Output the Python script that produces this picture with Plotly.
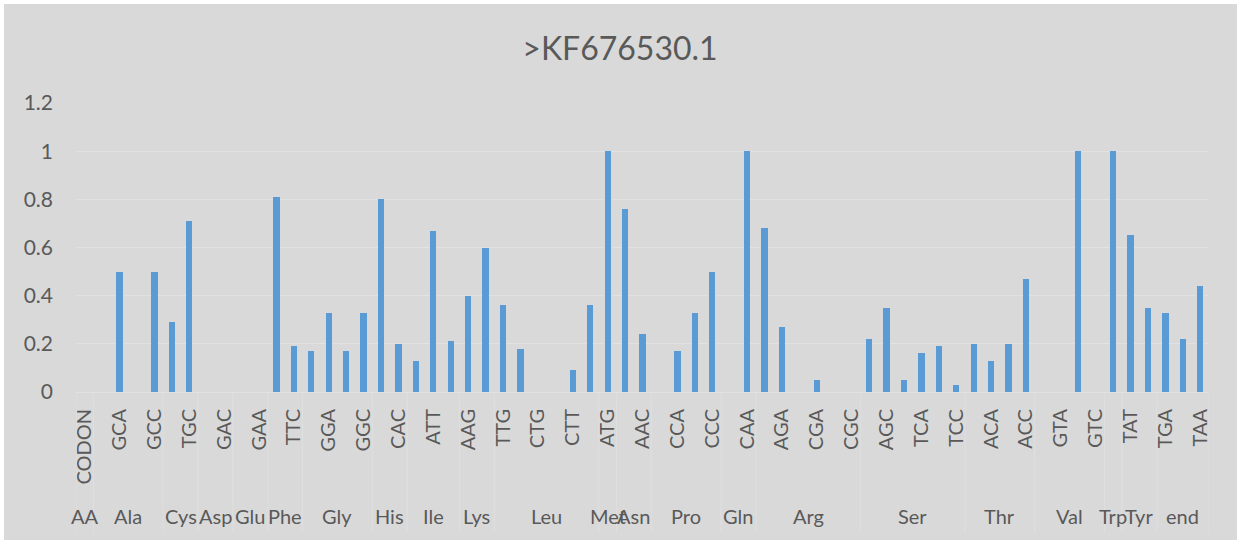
import plotly.graph_objects as go

title_text = ">KF676530.1"

codons = ["CODON",
          "GCT", "GCA", "GCG", "GCC",
          "TGT", "TGC",
          "GAT", "GAC",
          "GAG", "GAA",
          "TTT", "TTC",
          "GGT", "GGA", "GGG", "GGC",
          "CAT", "CAC",
          "ATA", "ATT", "ATC",
          "AAG", "AAA",
          "TTG", "TTA", "CTG", "CTA", "CTT", "CTC",
          "ATG",
          "AAT", "AAC",
          "CCT", "CCA", "CCG", "CCC",
          "CAG", "CAA",
          "AGG", "AGA", "CGG", "CGA", "CGT", "CGC",
          "AGT", "AGC", "TCT", "TCA", "TCG", "TCC",
          "ACT", "ACA", "ACG", "ACC",
          "GTT", "GTA", "GTG", "GTC",
          "TGG",
          "TAT", "TAC",
          "TGA", "TAG", "TAA"]

amino_acids = ["AA",
               "Ala", "Ala", "Ala", "Ala",
               "Cys", "Cys",
               "Asp", "Asp",
               "Glu", "Glu",
               "Phe", "Phe",
               "Gly", "Gly", "Gly", "Gly",
               "His", "His",
               "Ile", "Ile", "Ile",
               "Lys", "Lys",
               "Leu", "Leu", "Leu", "Leu", "Leu", "Leu",
               "Met",
               "Asn", "Asn",
               "Pro", "Pro", "Pro", "Pro",
               "Gln", "Gln",
               "Arg", "Arg", "Arg", "Arg", "Arg", "Arg",
               "Ser", "Ser", "Ser", "Ser", "Ser", "Ser",
               "Thr", "Thr", "Thr", "Thr",
               "Val", "Val", "Val", "Val",
               "Trp",
               "Tyr", "Tyr",
               "end", "end", "end"]

values = [0,
          0, 0.50, 0, 0.50,
          0.29, 0.71,
          0, 0,
          0, 0,
          0.81, 0.19,
          0.17, 0.33, 0.17, 0.33,
          0.80, 0.20,
          0.13, 0.67, 0.21,
          0.40, 0.60,
          0.36, 0.18, 0, 0, 0.09, 0.36,
          1.00,
          0.76, 0.24,
          0, 0.17, 0.33, 0.50,
          0, 1.00,
          0.68, 0.27, 0, 0.05, 0, 0,
          0.22, 0.35, 0.05, 0.16, 0.19, 0.03,
          0.20, 0.13, 0.20, 0.47,
          0, 0, 1.00, 0,
          1.00,
          0.65, 0.35,
          0.33, 0.22, 0.44]

y_ticks = [0, 0.2, 0.4, 0.6, 0.8, 1, 1.2]

FONT = "Lato"
TXT = "#595959"
BG = "#d9d9d9"
GRID = "#e1e1e1"

idx = list(range(len(codons)))

# groups (consecutive runs)
groups = []
for i, aa in enumerate(amino_acids):
    if groups and groups[-1][0] == aa:
        groups[-1][2] = i
    else:
        groups.append([aa, i, i])

fig = go.Figure()
fig.add_trace(go.Bar(
    x=idx, y=values,
    width=0.36,
    marker=dict(color="#5b9bd5", line=dict(width=0)),
    hoverinfo="x+y",
))

# plot area geometry (pixels)
L, R, T, B = 76, 31, 103, 152
W = 1240 - L - R
H = 544 - T - B

shapes = []
# outer gray chart area with white border
shapes.append(dict(type="rect", xref="paper", yref="paper", layer="below",
                   x0=(4 - L) / W, x1=(1237 - L) / W,
                   y0=(544 - B - 540) / H, y1=(544 - B - 4) / H,
                   fillcolor=BG, line=dict(width=0)))
# category dividers
bounds = [g[1] - 0.5 for g in groups] + [groups[-1][2] + 0.5]
for bx in bounds:
    shapes.append(dict(type="line", xref="x", yref="paper",
                       x0=bx, x1=bx, y0=0, y1=-(532 - (544 - B)) / H,
                       line=dict(color="#dfdfdf", width=1)))

annotations = []
for aa, a, b in groups:
    annotations.append(dict(x=(a + b) / 2, y=-(516 - (544 - B)) / H,
                            xref="x", yref="paper", text=aa, showarrow=False,
                            xanchor="center", yanchor="middle",
                            font=dict(family=FONT, size=20, color=TXT)))

fig.update_layout(
    width=1240, height=544,
    margin=dict(l=L, r=R, t=T, b=B, pad=0),
    paper_bgcolor="white",
    plot_bgcolor=BG,
    showlegend=False,
    bargap=0,
    title=dict(text=title_text, x=0.5, xref="container", xanchor="center",
               y=1 - 49 / 544, yref="container", yanchor="middle",
               font=dict(family=FONT, size=32, color=TXT)),
    xaxis=dict(range=[-0.5, len(codons) - 0.5],
               tickmode="array",
               tickvals=idx[::2], ticktext=codons[::2],
               tickangle=-90, showgrid=False, zeroline=False,
               showline=True, linecolor=GRID, linewidth=1,
               ticks="", ticklabelstandoff=8,
               tickfont=dict(family=FONT, size=20, color=TXT)),
    yaxis=dict(range=[0, 1.2], tickmode="array", tickvals=y_ticks,
               showgrid=True, gridcolor=GRID, gridwidth=1,
               zeroline=False, showline=False, ticks="",
               ticklabelstandoff=22,
               tickfont=dict(family=FONT, size=21, color=TXT)),
    shapes=shapes,
    annotations=annotations,
)

fig.write_html("out.html", config={"displayModeBar": False},
               post_script="document.body.style.margin='0px';")
